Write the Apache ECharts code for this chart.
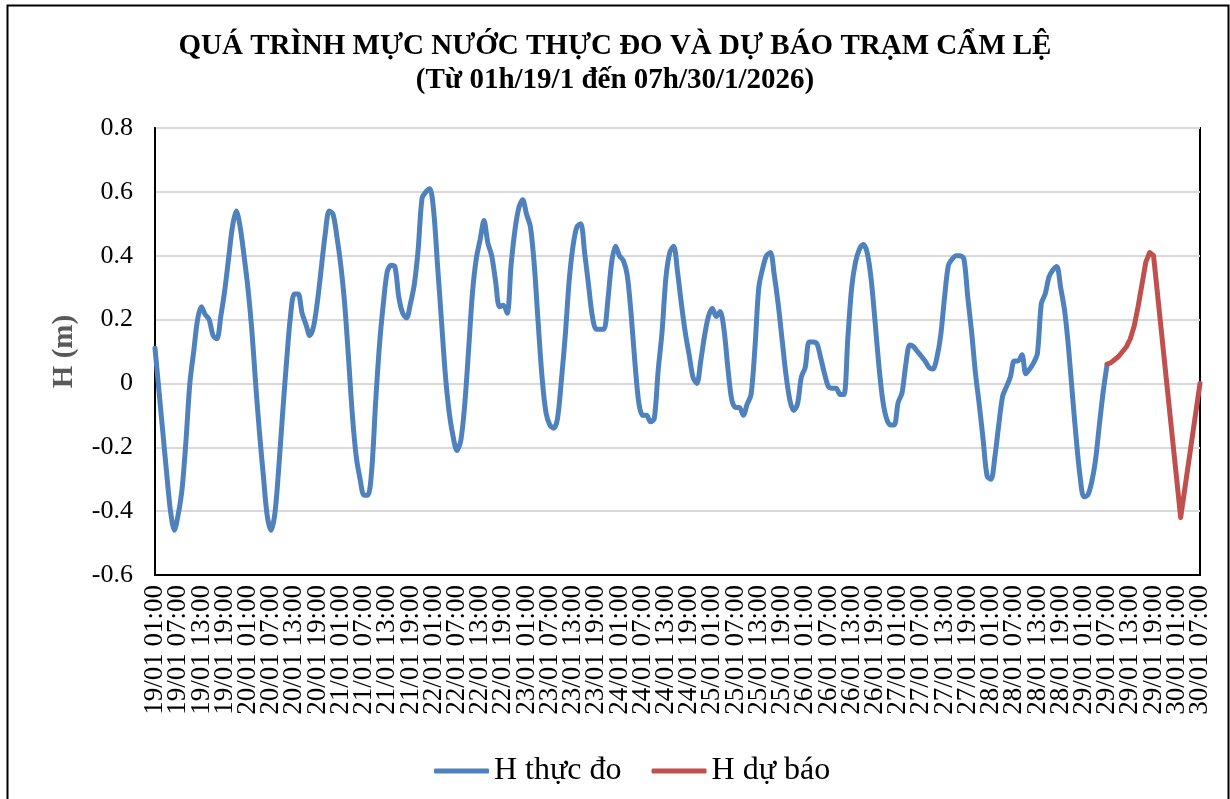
<!DOCTYPE html>
<html>
<head>
<meta charset="utf-8">
<title>Cẩm Lệ</title>
<script src="https://cdn.jsdelivr.net/npm/echarts@6/dist/echarts.min.js"></script>
<style>
  html, body { margin: 0; padding: 0; background: #fff; }
  #chart-container { width: 1230px; height: 799px; }
</style>
</head>
<body>
<div id="chart-container"></div>
<script>
// muc nuoc thuc do, moi gio tu 01h 19/01 den 07h 29/01
let hThucDo = [
  0.11, -0.02, -0.15, -0.28, -0.40, -0.46, -0.41, -0.33, -0.18, 0.00,
  0.10, 0.20, 0.24, 0.215, 0.20, 0.15, 0.14, 0.21, 0.29, 0.39,
  0.49, 0.54, 0.49, 0.40, 0.30, 0.17, 0.00, -0.155, -0.29, -0.415,
  -0.46, -0.405, -0.26, -0.09, 0.07, 0.21, 0.28, 0.28, 0.22, 0.185,
  0.15, 0.18, 0.26, 0.365, 0.47, 0.54, 0.53, 0.46, 0.37, 0.25,
  0.08, -0.10, -0.23, -0.30, -0.35, -0.35, -0.27, -0.06, 0.12, 0.25,
  0.35, 0.37, 0.365, 0.27, 0.22, 0.205, 0.25, 0.31, 0.42, 0.58,
  0.60, 0.61, 0.54, 0.37, 0.20, 0.03, -0.09, -0.165, -0.21, -0.18,
  -0.07, 0.10, 0.28, 0.39, 0.45, 0.51, 0.44, 0.40, 0.32, 0.24,
  0.245, 0.22, 0.37, 0.48, 0.55, 0.575, 0.53, 0.49, 0.37, 0.19,
  0.02, -0.09, -0.13, -0.14, -0.11, 0.01, 0.15, 0.32, 0.43, 0.49,
  0.50, 0.41, 0.31, 0.21, 0.17, 0.17, 0.17, 0.26, 0.38, 0.43,
  0.40, 0.385, 0.34, 0.22, 0.065, -0.06, -0.10, -0.10, -0.12, -0.11,
  0.04, 0.16, 0.33, 0.41, 0.43, 0.35, 0.25, 0.16, 0.09, 0.02,
  0.00, 0.07, 0.15, 0.21, 0.235, 0.21, 0.225, 0.17, 0.05, -0.05,
  -0.075, -0.075, -0.10, -0.065, -0.035, 0.11, 0.30, 0.36, 0.40, 0.41,
  0.34, 0.25, 0.14, 0.03, -0.05, -0.085, -0.065, 0.02, 0.05, 0.13,
  0.13, 0.125, 0.08, 0.03, -0.01, -0.015, -0.015, -0.035, -0.035, 0.14,
  0.30, 0.38, 0.42, 0.435, 0.41, 0.33, 0.20, 0.06, -0.05, -0.11,
  -0.13, -0.13, -0.06, -0.03, 0.06, 0.12, 0.115, 0.10, 0.085, 0.07,
  0.05, 0.045, 0.08, 0.15, 0.27, 0.37, 0.39, 0.40, 0.40, 0.39,
  0.27, 0.16, 0.03, -0.07, -0.18, -0.29, -0.30, -0.23, -0.13, -0.04,
  -0.01, 0.02, 0.07, 0.07, 0.09, 0.03, 0.045, 0.064, 0.095, 0.25,
  0.28, 0.334, 0.355, 0.366, 0.30, 0.23, 0.116, -0.03, -0.17, -0.29,
  -0.355, -0.35, -0.31, -0.24, -0.13, -0.025, 0.06
]

// du bao tu 07h 29/01 den 07h 30/01 (null = khong co gia tri)
let hDuBao = [
  0.06, 0.065, 0.075, 0.085, 0.10, 0.115, 0.14, 0.18, 0.24, 0.31,
  0.38, 0.41, 0.40, null, null, null, null, null, null, -0.42,
  null, null, null, null, 0.00
]

let yTicks = [-0.6, -0.4, -0.2, 0, 0.2, 0.4, 0.6, 0.8]

// nhan truc thoi gian, moi gio
let categories = []
let start = new Date(2026, 0, 19, 1, 0)
let total = hThucDo.length - 1 + hDuBao.length
for (let i = 0; i < total; i++) {
    let d = new Date(start.getTime() + i * 3600 * 1000)
    let p = n => (n < 10 ? '0' : '') + n
    categories.push(p(d.getDate()) + '/' + p(d.getMonth() + 1) + ' ' + p(d.getHours()) + ':00')
}

let offset = hThucDo.length - 1
let seriesDuBao = categories.map((c, i) => (i < offset ? null : hDuBao[i - offset]))

let dom = document.getElementById('chart-container')
let myChart = echarts.init(dom, null, { renderer: 'canvas' })
let serif = '"Liberation Serif", "Times New Roman", serif'

let option = {
    backgroundColor: '#fff',
    animation: false,
    textStyle: { fontFamily: serif },
    title: {
        text: 'QUÁ TRÌNH MỰC NƯỚC THỰC ĐO VÀ DỰ BÁO TRẠM CẨM LỆ\n(Từ 01h/19/1 đến 07h/30/1/2026)',
        left: 'center',
        top: 25,
        textStyle: { fontFamily: serif, fontSize: 29, fontWeight: 'bold', color: '#000', lineHeight: 34 }
    },
    graphic: [{
        type: 'rect',
        shape: { x: 7.5, y: 5.5, width: 1221, height: 820 },
        style: { fill: 'none', stroke: '#000', lineWidth: 2 },
        silent: true
    }],
    legend: {
        bottom: 7,
        left: 429,
        icon: 'roundRect',
        itemWidth: 55,
        itemHeight: 5,
        itemGap: 30,
        textStyle: { fontFamily: serif, fontSize: 32, color: '#000' },
        data: ['H thực đo', 'H dự báo']
    },
    grid: {
        left: 155, right: 30, top: 128, bottom: 224,
        show: true, borderColor: '#000', borderWidth: 2,
        containLabel: false
    },
    xAxis: {
        type: 'category',
        data: categories,
        boundaryGap: false,
        axisLine: { show: true, onZero: false, lineStyle: { color: '#000', width: 2 } },
        axisTick: { show: false },
        axisLabel: {
            interval: 0,
            formatter: (v, i) => (i % 6 === 0 ? v : ''),
            rotate: 90,
            margin: 10,
            showMinLabel: true,
            showMaxLabel: true,
            fontFamily: serif,
            fontSize: 27,
            lineHeight: 20,
            color: '#000'
        },
        splitLine: { show: false }
    },
    yAxis: {
        type: 'value',
        min: yTicks[0],
        max: yTicks[yTicks.length - 1],
        interval: 0.2,
        name: 'H (m)',
        nameLocation: 'middle',
        nameGap: 76,
        nameTextStyle: { fontFamily: serif, fontSize: 29, fontWeight: 'bold', color: '#595959' },
        axisLine: { show: true, lineStyle: { color: '#000', width: 2 } },
        axisTick: { show: false },
        axisLabel: {
            margin: 22,
            fontFamily: serif,
            fontSize: 26,
            color: '#000',
            formatter: v => String(+v.toFixed(1))
        },
        splitLine: { lineStyle: { color: '#d9d9d9', width: 2 } }
    },
    series: [
        {
            name: 'H thực đo',
            type: 'line',
            data: hThucDo,
            smooth: 0.3,
            symbol: 'none',
            lineStyle: { color: '#4f81bd', width: 5, cap: 'round', join: 'round' },
            itemStyle: { color: '#4f81bd' },
            z: 3
        },
        {
            name: 'H dự báo',
            type: 'line',
            data: seriesDuBao,
            connectNulls: true,
            symbol: 'none',
            lineStyle: { color: '#c0504d', width: 5, cap: 'round', join: 'round' },
            itemStyle: { color: '#c0504d' },
            z: 4
        }
    ]
}

if (option && typeof option === 'object') {
    myChart.setOption(option)
}
window.addEventListener('resize', myChart.resize)
</script>
</body>
</html>
